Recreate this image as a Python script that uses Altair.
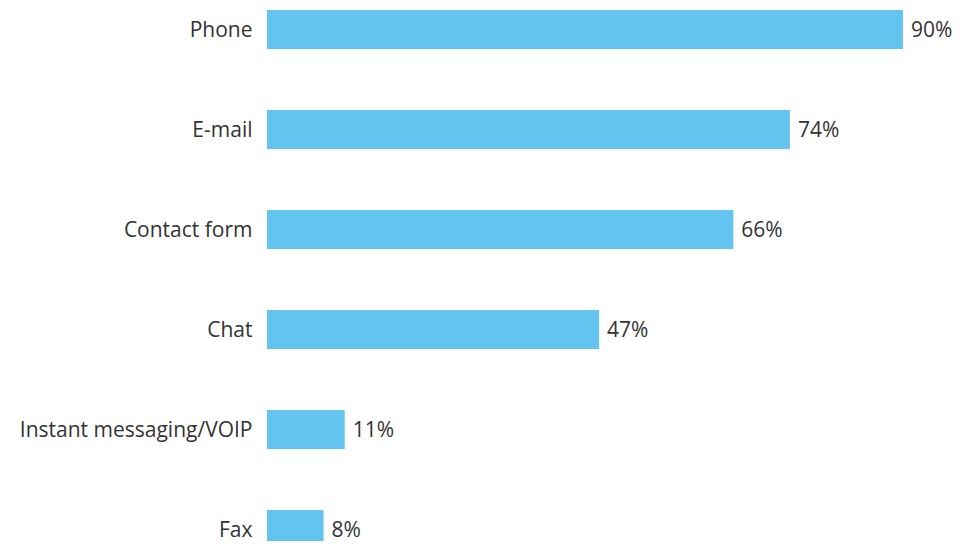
import altair as alt
import pandas as pd

channels = ["Phone", "E-mail", "Contact form", "Chat", "Instant messaging/VOIP", "Fax"]
shares = [90, 74, 66, 47, 11, 8]
labels = ["90%", "74%", "66%", "47%", "11%", "8%"]

df = pd.DataFrame({"channel": channels, "share": shares, "label": labels})

FONT = "Open Sans"
BAR = "#63C4EF"
TXT = "#333333"

y = alt.Y("channel:N", sort=channels,
          scale=alt.Scale(range=[0, 543], paddingInner=0.61, paddingOuter=0.02),
          axis=alt.Axis(title=None, domain=False, ticks=False, grid=False, labelPadding=15,
                        labelOffset=1,
                        labelFont=FONT, labelFontSize=21, labelColor=TXT,
                        labelLimit=400))
x = alt.X("share:Q", scale=alt.Scale(domain=[0, 98.5], nice=False), axis=None)

bars = alt.Chart(df).mark_bar(color=BAR, clip=True).encode(x=x, y=y)
text = alt.Chart(df).mark_text(align="left", baseline="middle", dx=8, dy=1, font=FONT,
                               fontSize=21, color=TXT).encode(x=x, y=y, text="label:N")

chart = (bars + text).properties(
    width=696, height=533,
    background="white",
    autosize=alt.AutoSizeParams(type="none"),
    padding={"left": 259, "top": 0, "right": 0, "bottom": 0},
).configure_view(strokeWidth=0, stroke="transparent")

chart.save("out.html", embed_options={"renderer": "svg", "actions": False})
